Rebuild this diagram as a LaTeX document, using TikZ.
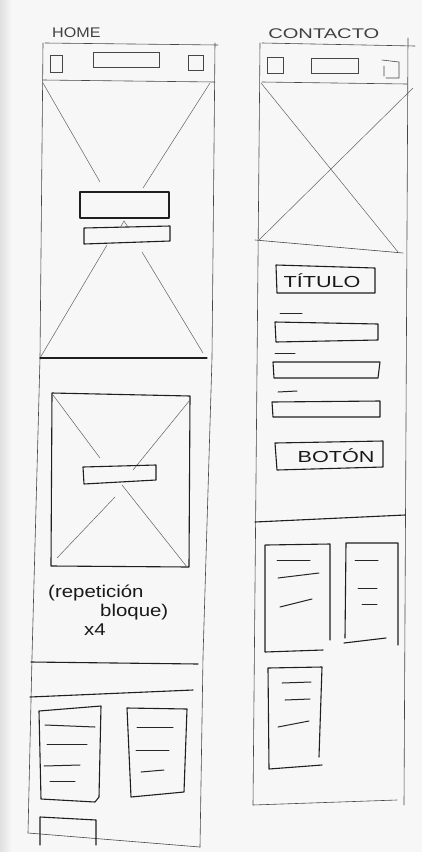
\documentclass[tikz,border=0pt]{standalone}
\usepackage{fontspec}
\setmainfont{Liberation Sans}
\begin{document}
\begin{tikzpicture}[x=1pt,y=-1pt,
  frame/.style={draw=black!72,line width=0.6pt,line cap=round},
  xline/.style={draw=black!62,line width=0.5pt,line cap=round},
  box/.style={draw=black!88,line width=1.1pt,line cap=round,line join=round},
  txtline/.style={draw=black!85,line width=1pt,line cap=round},
  lbl/.style={font=\fontsize{14}{16}\selectfont,text=black!75,inner sep=0pt,anchor=west,xscale=1.15},
  hand/.style={font=\fontsize{17}{19}\selectfont,text=black!90,inner sep=0pt,anchor=west,xscale=1.2},
  boxtxt/.style={font=\fontsize{16}{18}\selectfont,text=black!90,inner sep=0pt,xscale=1.35}]
\fill[black!3] (0,0) rectangle (422,852);
\shade[left color=black!12,right color=black!3] (0,0) rectangle (12,852);
\useasboundingbox (0,0) rectangle (422,852);

% ---------------- HOME ----------------
\node[lbl] (home) at (52,33) {HOME};
\draw[frame] (45,43) -- (218,45);
\draw[frame] (43,43) -- (40,358) -- (32,657) -- (28,833) -- (200,847);
\draw[frame] (215,43) -- (212,358) -- (203,657) -- (200,847);
\draw[frame] (43,80) -- (215,82);
% header icons
\draw[frame] (50,55) rectangle (62,72);
\draw[frame] (93,52) rectangle (159,67);
\draw[frame] (188,55) rectangle (203,70);
% hero
\draw[xline] (43,83) -- (100,182);
\draw[xline] (210,83) -- (143,188);
\draw[xline] (107,245) -- (40,358);
\draw[xline] (142,252) -- (203,353);
\draw[box] (40,358) -- (207,358);
\draw[box] (80,192) rectangle (169,218);
\draw[box] (84,228) -- (170,226) -- (170,241) -- (84,244) -- cycle;
\draw[xline] (120,228) -- (124,221) -- (128,227);
% block
\draw[box] (52,393) -- (190,396) -- (189,567) -- (51,566) -- cycle;
\draw[xline] (53,395) -- (100,458);
\draw[xline] (190,400) -- (133,470);
\draw[xline] (115,497) -- (57,558);
\draw[xline] (122,485) -- (187,567);
\draw[box] (83,467) -- (156,465) -- (156,480) -- (84,484) -- cycle;
\node[hand] (rep) at (48,593) {(repetición};
\node[hand] (bloq) at (100,612) {bloque)};
\node[hand] (x4) at (84,630) {x4};
% footer
\draw[box] (31,662) -- (198,664);
\draw[box] (30,697) -- (193,690);
\draw[box] (39,711) -- (101,706) -- (99,797) -- (95,802) -- (41,799) -- cycle;
\draw[txtline] (45,725) -- (95,727);
\draw[txtline] (47,744) -- (87,744);
\draw[txtline] (44,766) -- (80,765);
\draw[txtline] (50,781) -- (75,781);
\draw[box] (127,708) -- (187,709) -- (184,792) -- (131,797) -- cycle;
\draw[txtline] (137,727) -- (173,727);
\draw[txtline] (136,750) -- (169,750);
\draw[txtline] (141,772) -- (164,770);
\draw[box] (40,845) -- (40,817) -- (96,820) -- (96,845);

% ---------------- CONTACTO ----------------
\node[lbl,xscale=1.25] (cont) at (268,34) {CONTACTO};
\draw[frame] (262,43) -- (415,46);
\draw[frame] (260,43) -- (253,805) -- (397,800);
\draw[frame] (408,38) -- (404,805);
\draw[frame] (262,82) -- (407,84);
\draw[frame] (267,57) rectangle (283,73);
\draw[frame] (311,58) rectangle (358,73);
\draw[frame] (382,60) -- (399,62) -- (399,78) -- (386,78) (384,66) -- (384,76);
% hero
\draw[xline] (261,83) -- (398,252);
\draw[xline] (413,88) -- (259,240);
\draw[frame] (255,240) -- (403,253);
% form
\draw[box] (276,265) -- (375,268) -- (375,293) -- (277,293) -- cycle;
\node[boxtxt] (titulo) at (322,281) {TÍTULO};
\draw[txtline] (280,313) -- (302,313);
\draw[box] (275,322) -- (378,324) -- (378,340) -- (276,342) -- cycle;
\draw[txtline] (275,353) -- (295,353);
\draw[box] (273,362) -- (380,362) -- (378,378) -- (274,378) -- cycle;
\draw[txtline] (278,392) -- (297,391);
\draw[box] (272,402) -- (380,401) -- (380,417) -- (273,417) -- cycle;
\draw[box] (275,443) -- (383,441) -- (383,467) -- (277,470) -- cycle;
\node[boxtxt] (boton) at (336,456) {BOTÓN};
% lower section
\draw[box] (255,522) -- (405,515);
\draw[box] (266,545) -- (330,544) -- (330,640) (265,545) -- (265,652) -- (323,650);
\draw[txtline] (277,560) -- (310,560);
\draw[txtline] (278,578) -- (319,573);
\draw[txtline] (280,607) -- (312,599);
\draw[box] (346,543) -- (398,543) -- (398,645) (346,543) -- (345,638) (344,643) -- (386,638);
\draw[txtline] (355,560) -- (378,560);
\draw[txtline] (358,588) -- (377,588);
\draw[txtline] (362,604) -- (377,604);
\draw[box] (268,668) -- (322,667) -- (319,757) (268,668) -- (269,769) -- (322,765);
\draw[txtline] (282,683) -- (311,682);
\draw[txtline] (285,700) -- (310,699);
\draw[txtline] (278,727) -- (309,721);
\end{tikzpicture}
\end{document}
